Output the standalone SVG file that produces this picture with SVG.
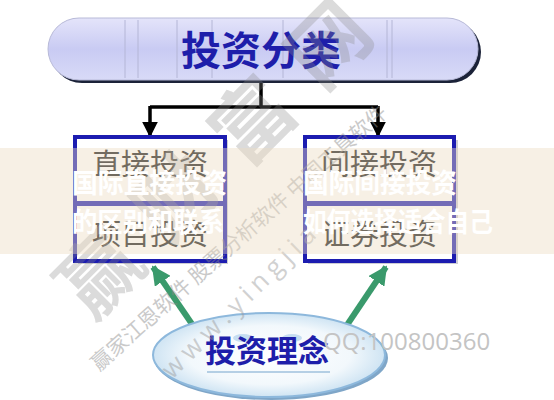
<svg xmlns="http://www.w3.org/2000/svg" width="554" height="400" viewBox="0 0 554 400">
<defs>
<style>
.cjk{font-family:"Noto Sans CJK SC","Noto Sans",sans-serif}
.title{font-weight:700;fill:#1e1eaa}
.boxt{font-size:29px;fill:#1a1a1a;text-anchor:middle}
.box{fill:#ffffff;stroke:#1c1cb0;stroke-width:4}
.shadow{fill:#9a9aa8;opacity:0.5}
.wt{font-weight:700;fill:#ffffff;font-size:27px}
.wm{fill:#8a8a8a}
</style>
<linearGradient id="pillg" x1="0" y1="0" x2="0" y2="1">
<stop offset="0" stop-color="#e4e4fa"/>
<stop offset="0.5" stop-color="#c9cbf3"/>
<stop offset="1" stop-color="#d8daf7"/>
</linearGradient>
<radialGradient id="ellg" cx="0.5" cy="0.5" r="0.5">
<stop offset="0" stop-color="#ffffff"/>
<stop offset="0.7" stop-color="#f2f8fc"/>
<stop offset="1" stop-color="#cfe4f3"/>
</radialGradient>
<marker id="ah" viewBox="0 0 10 10" refX="9" refY="5" markerWidth="4.5" markerHeight="4.5" orient="auto" markerUnits="strokeWidth">
<path d="M0,0 L10,5 L0,10 z" fill="#000"/>
</marker>
<marker id="gh" viewBox="0 0 10 10" refX="9" refY="5" markerWidth="3.2" markerHeight="3.2" orient="auto" markerUnits="strokeWidth">
<path d="M0,0 L10,5 L0,10 z" fill="#3a9a6c"/>
</marker>
</defs>
<rect width="554" height="400" fill="#ffffff"/>

<g id="connectors">
<path d="M261,80 V107 M150,107 H378" stroke="#000" stroke-width="3.5" fill="none"/>
<line x1="150" y1="106" x2="150" y2="136" stroke="#000" stroke-width="3.5" marker-end="url(#ah)"/>
<line x1="378" y1="106" x2="378" y2="136" stroke="#000" stroke-width="3.5" marker-end="url(#ah)"/>
<line x1="194" y1="327" x2="153" y2="267" stroke="#3a9a6c" stroke-width="6" marker-end="url(#gh)"/>
<line x1="345" y1="328" x2="386" y2="267" stroke="#3a9a6c" stroke-width="6" marker-end="url(#gh)"/>
</g>

<g id="node-classify">
<rect x="51" y="21" width="430" height="62" rx="31" fill="#1b2238"/>
<rect x="48" y="18" width="430" height="62" rx="31" fill="url(#pillg)" stroke="#b8bad8" stroke-width="1"/>
<g stroke="#b4b6d6" stroke-width="1">
<line x1="125" y1="20" x2="125" y2="78"/><line x1="138" y1="20" x2="138" y2="78"/>
<line x1="177" y1="20" x2="177" y2="78"/><line x1="212" y1="20" x2="212" y2="78"/>
<line x1="283" y1="20" x2="283" y2="78"/><line x1="387" y1="20" x2="387" y2="78"/>
<line x1="392" y1="20" x2="392" y2="78"/>
</g>
<text class="cjk title" x="261" y="65" font-size="40" text-anchor="middle">投资分类</text>
</g>

<g id="node-direct">
<rect class="shadow" x="78" y="140" width="150" height="124"/>
<rect class="box" x="75" y="137" width="150" height="66"/>
<rect class="box" x="75" y="204" width="150" height="57"/>
<text class="cjk boxt" x="150" y="175">直接投资</text>
<text class="cjk boxt" x="150" y="245">项目投资</text>
</g>

<g id="node-indirect">
<rect class="shadow" x="308" y="140" width="150" height="124"/>
<rect class="box" x="305" y="137" width="149" height="66"/>
<rect class="box" x="305" y="204" width="149" height="57"/>
<text class="cjk boxt" x="379" y="175">间接投资</text>
<text class="cjk boxt" x="379" y="245">证券投资</text>
</g>

<g id="node-concept">
<ellipse cx="271" cy="358" rx="117" ry="42" fill="#7fa6c8"/>
<ellipse cx="269" cy="355" rx="116" ry="42" fill="url(#ellg)" stroke="#8db8dc" stroke-width="2"/>
<ellipse cx="243" cy="338" rx="10" ry="4" fill="#b9d6ee" opacity="0.8"/>
<ellipse cx="292" cy="338" rx="10" ry="4" fill="#b9d6ee" opacity="0.8"/>
<line x1="207" y1="372" x2="330" y2="372" stroke="#9fc0dc" stroke-width="1.5"/>
<text class="cjk title" x="267" y="362" font-size="31" text-anchor="middle">投资理念</text>
</g>

<g id="watermark">
<text class="cjk wm" x="0" y="0" font-size="80" font-weight="700" letter-spacing="28" opacity="0.3" transform="translate(92,322) rotate(-45)">赢财富网</text>
<text class="cjk wm" x="0" y="0" font-size="21" opacity="0.45" transform="translate(99,372) rotate(-41.6)">赢家江恩软件 股票分析软件 中国工具软件</text>
<text x="0" y="0" font-family="Open Sans, sans-serif" font-size="26" letter-spacing="6" fill="#9a9a9a" opacity="0.45" transform="translate(172,380) rotate(-44.6)">www.yingjia</text>
<text x="323" y="350" font-family="Open Sans, sans-serif" font-size="24" fill="#c4c4c4">QQ:100800360</text>
</g>

<g id="banner">
<rect x="0" y="148" width="554" height="106" fill="#ecdcc2" opacity="0.42"/>
<text class="cjk wt" x="72" y="193" textLength="155" lengthAdjust="spacingAndGlyphs">国际直接投资</text>
<text class="cjk wt" x="303" y="193" textLength="154" lengthAdjust="spacingAndGlyphs">国际间接投资</text>
<text class="cjk wt" x="72" y="232" textLength="152" lengthAdjust="spacingAndGlyphs">的区别和联系</text>
<text class="cjk wt" x="303" y="232" textLength="190" lengthAdjust="spacingAndGlyphs">如何选择适合自己</text>
</g>
</svg>
